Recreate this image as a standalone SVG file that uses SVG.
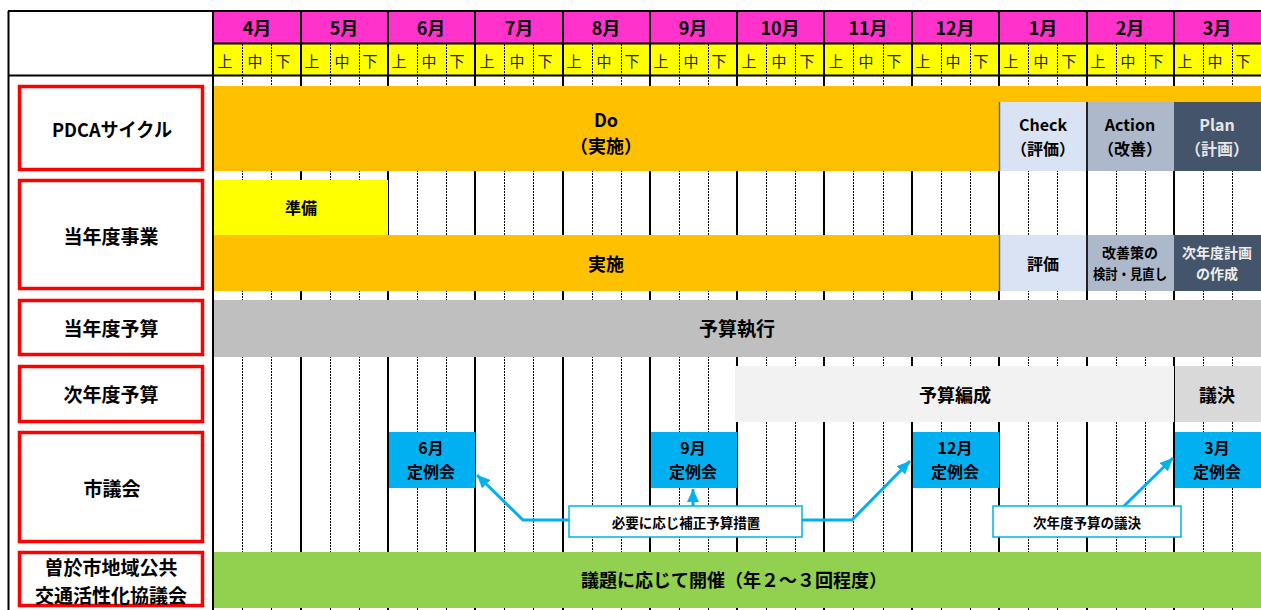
<svg xmlns="http://www.w3.org/2000/svg" width="1261" height="610" viewBox="0 0 1261 610">
<style>
text{font-family:"Noto Sans CJK JP","Noto Sans",sans-serif;text-anchor:middle;dominant-baseline:central;fill:#000}
.mo{font-size:18px;font-weight:bold}
.sub{font-size:15px;fill:#222}
.lab{font-size:19px;font-weight:bold}
.bar{font-size:18px;font-weight:bold}
.pd{font-size:16px;font-weight:bold}
.md{font-size:16px;font-weight:bold}
.sm{font-size:14px;font-weight:bold}
.cl{font-size:13.5px;font-weight:bold}
.ml{stroke:#000;stroke-width:2}
.dl{stroke:#000;stroke-width:1;stroke-dasharray:2 1}
.red{fill:#fff;stroke:#ff0000;stroke-width:3.5}
.con{fill:none;stroke:#00b0f0;stroke-width:3}
.call{fill:#fff;stroke:#00b0f0;stroke-width:1.5}
</style>
<defs>
<marker id="ah" markerUnits="userSpaceOnUse" markerWidth="14" markerHeight="12" refX="13" refY="6" orient="auto">
<path d="M0,0 L13,6 L0,12 Z" fill="#00b0f0"/>
</marker>
</defs>
<rect x="0" y="0" width="1261" height="610" fill="#fff"/>

<g id="header">
<rect x="213" y="11" width="1048" height="32" fill="#ff33cc"/>
<rect x="213" y="44" width="1048" height="31" fill="#ffff00"/>
<line x1="8" y1="11" x2="1261" y2="11" class="ml"/>
<line x1="213" y1="43.5" x2="1261" y2="43.5" class="ml"/>
<line x1="8" y1="75.5" x2="1261" y2="75.5" class="ml"/>
<g>
<text class="mo" x="257" y="27">4月</text>
<text class="mo" x="344" y="27">5月</text>
<text class="mo" x="431" y="27">6月</text>
<text class="mo" x="519" y="27">7月</text>
<text class="mo" x="606" y="27">8月</text>
<text class="mo" x="693" y="27">9月</text>
<text class="mo" x="780" y="27">10月</text>
<text class="mo" x="868" y="27">11月</text>
<text class="mo" x="955" y="27">12月</text>
<text class="mo" x="1043" y="27">1月</text>
<text class="mo" x="1130" y="27">2月</text>
<text class="mo" x="1217" y="27">3月</text>
</g>
<g>
<text class="sub" x="225" y="60">上</text><text class="sub" x="255" y="60">中</text><text class="sub" x="283" y="60">下</text>
<text class="sub" x="312" y="60">上</text><text class="sub" x="342" y="60">中</text><text class="sub" x="370" y="60">下</text>
<text class="sub" x="399" y="60">上</text><text class="sub" x="429" y="60">中</text><text class="sub" x="457" y="60">下</text>
<text class="sub" x="487" y="60">上</text><text class="sub" x="517" y="60">中</text><text class="sub" x="545" y="60">下</text>
<text class="sub" x="574" y="60">上</text><text class="sub" x="604" y="60">中</text><text class="sub" x="632" y="60">下</text>
<text class="sub" x="661" y="60">上</text><text class="sub" x="691" y="60">中</text><text class="sub" x="719" y="60">下</text>
<text class="sub" x="749" y="60">上</text><text class="sub" x="779" y="60">中</text><text class="sub" x="807" y="60">下</text>
<text class="sub" x="836" y="60">上</text><text class="sub" x="866" y="60">中</text><text class="sub" x="894" y="60">下</text>
<text class="sub" x="923" y="60">上</text><text class="sub" x="953" y="60">中</text><text class="sub" x="981" y="60">下</text>
<text class="sub" x="1011" y="60">上</text><text class="sub" x="1041" y="60">中</text><text class="sub" x="1069" y="60">下</text>
<text class="sub" x="1098" y="60">上</text><text class="sub" x="1128" y="60">中</text><text class="sub" x="1156" y="60">下</text>
<text class="sub" x="1185" y="60">上</text><text class="sub" x="1215" y="60">中</text><text class="sub" x="1243" y="60">下</text>
</g>
</g>

<g id="grid">
<line x1="8.5" y1="11" x2="8.5" y2="610" class="ml"/>
<line x1="213" y1="11" x2="213" y2="610" class="ml"/>
<line x1="301" y1="11" x2="301" y2="610" class="ml"/>
<line x1="388" y1="11" x2="388" y2="610" class="ml"/>
<line x1="475" y1="11" x2="475" y2="610" class="ml"/>
<line x1="563" y1="11" x2="563" y2="610" class="ml"/>
<line x1="650" y1="11" x2="650" y2="610" class="ml"/>
<line x1="737" y1="11" x2="737" y2="610" class="ml"/>
<line x1="824" y1="11" x2="824" y2="610" class="ml"/>
<line x1="912" y1="11" x2="912" y2="610" class="ml"/>
<line x1="999" y1="11" x2="999" y2="610" class="ml"/>
<line x1="1087" y1="11" x2="1087" y2="610" class="ml"/>
<line x1="1174" y1="11" x2="1174" y2="610" class="ml"/>
<g class="dl">
<line x1="242.5" y1="44" x2="242.5" y2="610"/><line x1="271.5" y1="44" x2="271.5" y2="610"/>
<line x1="330.5" y1="44" x2="330.5" y2="610"/><line x1="359.5" y1="44" x2="359.5" y2="610"/>
<line x1="417.5" y1="44" x2="417.5" y2="610"/><line x1="446.5" y1="44" x2="446.5" y2="610"/>
<line x1="504.5" y1="44" x2="504.5" y2="610"/><line x1="533.5" y1="44" x2="533.5" y2="610"/>
<line x1="592.5" y1="44" x2="592.5" y2="610"/><line x1="621.5" y1="44" x2="621.5" y2="610"/>
<line x1="679.5" y1="44" x2="679.5" y2="610"/><line x1="708.5" y1="44" x2="708.5" y2="610"/>
<line x1="766.5" y1="44" x2="766.5" y2="610"/><line x1="795.5" y1="44" x2="795.5" y2="610"/>
<line x1="853.5" y1="44" x2="853.5" y2="610"/><line x1="883.5" y1="44" x2="883.5" y2="610"/>
<line x1="941.5" y1="44" x2="941.5" y2="610"/><line x1="970.5" y1="44" x2="970.5" y2="610"/>
<line x1="1028.5" y1="44" x2="1028.5" y2="610"/><line x1="1057.5" y1="44" x2="1057.5" y2="610"/>
<line x1="1116.5" y1="44" x2="1116.5" y2="610"/><line x1="1145.5" y1="44" x2="1145.5" y2="610"/>
<line x1="1203.5" y1="44" x2="1203.5" y2="610"/><line x1="1232.5" y1="44" x2="1232.5" y2="610"/>
</g>
</g>

<g id="labels">
<rect class="red" x="19.5" y="86.5" width="183" height="83"/>
<text class="lab" x="112" y="128" textLength="120" lengthAdjust="spacingAndGlyphs">PDCAサイクル</text>
<rect class="red" x="19.5" y="180.5" width="183" height="108"/>
<text class="lab" x="111" y="235">当年度事業</text>
<rect class="red" x="19.5" y="300.5" width="183" height="54"/>
<text class="lab" x="111" y="327">当年度予算</text>
<rect class="red" x="19.5" y="366.5" width="183" height="55"/>
<text class="lab" x="111" y="393">次年度予算</text>
<rect class="red" x="19.5" y="432.5" width="183" height="109"/>
<text class="lab" x="112" y="487">市議会</text>
<rect class="red" x="19.5" y="552.5" width="183" height="53"/>
<text class="lab" x="111" y="566">曽於市地域公共</text>
<text class="lab" x="111" y="594">交通活性化協議会</text>
</g>

<g id="pdca">
<rect x="214" y="86" width="1047" height="85" fill="#ffc000"/>
<text class="bar" x="606" y="119">Do</text>
<text class="bar" x="606" y="145">（実施）</text>
<rect x="999" y="102" width="88" height="69" fill="#dae3f3"/>
<rect x="1087" y="102" width="87" height="69" fill="#adb9ca"/>
<rect x="1174" y="102" width="87" height="69" fill="#44546a"/>
<line x1="999.5" y1="102" x2="999.5" y2="171" stroke="#4472c4" stroke-width="1.5"/>
<line x1="1087" y1="102" x2="1087" y2="171" stroke="#222" stroke-width="2"/>
<text class="pd" x="1043" y="124">Check</text>
<text class="pd" x="1043" y="148">（評価）</text>
<text class="pd" x="1130" y="124">Action</text>
<text class="pd" x="1130" y="148">（改善）</text>
<text class="pd" x="1217" y="124" style="fill:#e6e6e6">Plan</text>
<text class="pd" x="1217" y="148" style="fill:#e6e6e6">（計画）</text>
</g>

<g id="jigyou">
<rect x="214" y="180" width="174" height="55" fill="#ffff00"/>
<text class="md" x="301" y="207">準備</text>
<rect x="214" y="235" width="785" height="56" fill="#ffc000"/>
<text class="bar" x="606" y="263">実施</text>
<rect x="999" y="235" width="88" height="56" fill="#dae3f3"/>
<rect x="1087" y="235" width="87" height="56" fill="#adb9ca"/>
<rect x="1174" y="235" width="87" height="56" fill="#44546a"/>
<line x1="999.5" y1="235" x2="999.5" y2="291" stroke="#4472c4" stroke-width="1.5"/>
<line x1="1087" y1="235" x2="1087" y2="291" stroke="#222" stroke-width="2"/>
<text class="md" x="1043" y="263">評価</text>
<text class="sm" x="1130" y="252">改善策の</text>
<text class="sm" x="1130" y="273" textLength="74" lengthAdjust="spacingAndGlyphs">検討・見直し</text>
<text class="sm" x="1217" y="252" style="fill:#eee">次年度計画</text>
<text class="sm" x="1217" y="273" style="fill:#eee">の作成</text>
</g>

<g id="yosan">
<rect x="214" y="300" width="1047" height="57" fill="#bfbfbf"/>
<text class="bar" x="737" y="327" style="font-size:19px">予算執行</text>
</g>

<g id="jiyosan">
<rect x="735" y="366" width="439" height="56" fill="#f2f2f2"/>
<text class="bar" x="955" y="394">予算編成</text>
<rect x="1175" y="366" width="86" height="56" fill="#d9d9d9"/>
<text class="bar" x="1217" y="394">議決</text>
</g>

<g id="gikai">
<rect x="389" y="432" width="86" height="56" fill="#00b0f0"/>
<text class="md" x="431" y="447">6月</text>
<text class="md" x="431" y="471">定例会</text>
<rect x="651" y="432" width="86" height="56" fill="#00b0f0"/>
<text class="md" x="693" y="447">9月</text>
<text class="md" x="693" y="471">定例会</text>
<rect x="913" y="432" width="86" height="56" fill="#00b0f0"/>
<text class="md" x="955" y="447">12月</text>
<text class="md" x="955" y="471">定例会</text>
<rect x="1175" y="432" width="86" height="56" fill="#00b0f0"/>
<text class="md" x="1217" y="447">3月</text>
<text class="md" x="1217" y="471">定例会</text>
</g>

<g id="connectors">
<path class="con" d="M569,520 H523 L477,475" marker-end="url(#ah)"/>
<path class="con" d="M693,507 V489" marker-end="url(#ah)"/>
<path class="con" d="M802,520 H852 L910,461" marker-end="url(#ah)"/>
<path class="con" d="M1123,507 L1173,458" marker-end="url(#ah)"/>
</g>

<g id="callouts">
<rect class="call" x="569" y="506" width="233" height="31"/>
<text class="cl" x="686" y="522">必要に応じ補正予算措置</text>
<rect class="call" x="993" y="506" width="188" height="31"/>
<text class="cl" x="1087" y="522">次年度予算の議決</text>
</g>

<g id="kyougikai">
<rect x="214" y="552" width="1047" height="56" fill="#92d050"/>
<text class="bar" x="734" y="579">議題に応じて開催（年２～３回程度）</text>
</g>
</svg>
